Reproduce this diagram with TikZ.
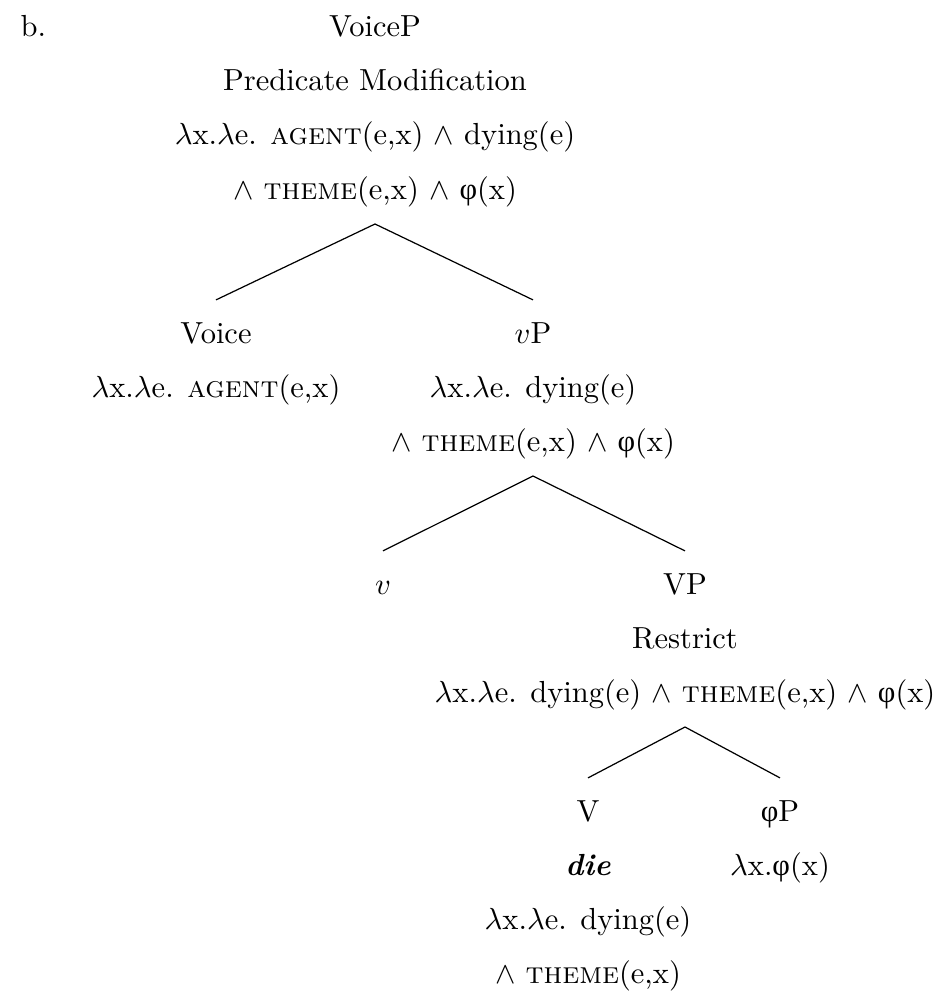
\documentclass[tikz,border=0pt]{standalone}
\usepackage{fontspec}
\newfontfamily\grkfont{Liberation Serif}
\newcommand{\phisym}{{\grkfont φ}}
\usetikzlibrary{positioning}

\begin{document}
\begin{tikzpicture}[
        x=0.328pt, y=0.328pt,
        lbl/.style={inner sep=0pt, anchor=base, text height=6.94pt, text depth=2.5pt},
        branch/.style={thin}
    ]
        \useasboundingbox (0,0) rectangle (948,-1002);

        \node[lbl, anchor=base west] (bmark) at (20,-37) {b.};

        % top: VoiceP
        \node[lbl] (voicep) at (375,-37) {VoiceP};
        \node[lbl] (predmod) at (375,-91) {Predicate Modification};
        \node[lbl] (voicepA) at (375,-145) {$\lambda$x.$\lambda$e. \textsc{agent}(e,x) $\wedge$ dying(e)};
        \node[lbl] (voicepB) at (375,-199) {$\wedge$ \textsc{theme}(e,x) $\wedge$ \phisym(x)};

        % Voice and vP
        \node[lbl] (voice) at (216,-343) {Voice};
        \node[lbl] (voiceA) at (216,-397) {$\lambda$x.$\lambda$e. \textsc{agent}(e,x)};
        \node[lbl] (vp) at (533,-343) {$v$P};
        \node[lbl] (vpA) at (533,-397) {$\lambda$x.$\lambda$e. dying(e)};
        \node[lbl] (vpB) at (533,-451) {$\wedge$ \textsc{theme}(e,x) $\wedge$ \phisym(x)};

        % v and VP
        \node[lbl] (littlev) at (383,-594) {$v$};
        \node[lbl] (bigvp) at (685,-594) {VP};
        \node[lbl] (restrict) at (685,-648) {Restrict};
        \node[lbl] (bigvpA) at (685,-702) {$\lambda$x.$\lambda$e. dying(e) $\wedge$ \textsc{theme}(e,x) $\wedge$ \phisym(x)};

        % V and phiP
        \node[lbl] (verb) at (588,-821) {V};
        \node[lbl] (die) at (588,-875) {\textbf{\textit{die}}};
        \node[lbl] (verbA) at (588,-929) {$\lambda$x.$\lambda$e. dying(e)};
        \node[lbl] (verbB) at (588,-983) {$\wedge$ \textsc{theme}(e,x)};
        \node[lbl] (phip) at (780,-821) {\phisym P};
        \node[lbl] (phipA) at (780,-875) {$\lambda$x.\phisym(x)};

        \draw[branch] ([yshift=-5.5pt]voicepB.south) -- ([yshift=7pt]voice.north);
        \draw[branch] ([yshift=-5.5pt]voicepB.south) -- ([yshift=7pt]vp.north);
        \draw[branch] ([yshift=-5.5pt]vpB.south) -- ([yshift=7pt]littlev.north);
        \draw[branch] ([yshift=-5.5pt]vpB.south) -- ([yshift=7pt]bigvp.north);
        \draw[branch] ([yshift=-5.5pt]bigvpA.south) -- ([yshift=7pt]verb.north);
        \draw[branch] ([yshift=-5.5pt]bigvpA.south) -- ([yshift=7pt]phip.north);
    \end{tikzpicture}
\end{document}
